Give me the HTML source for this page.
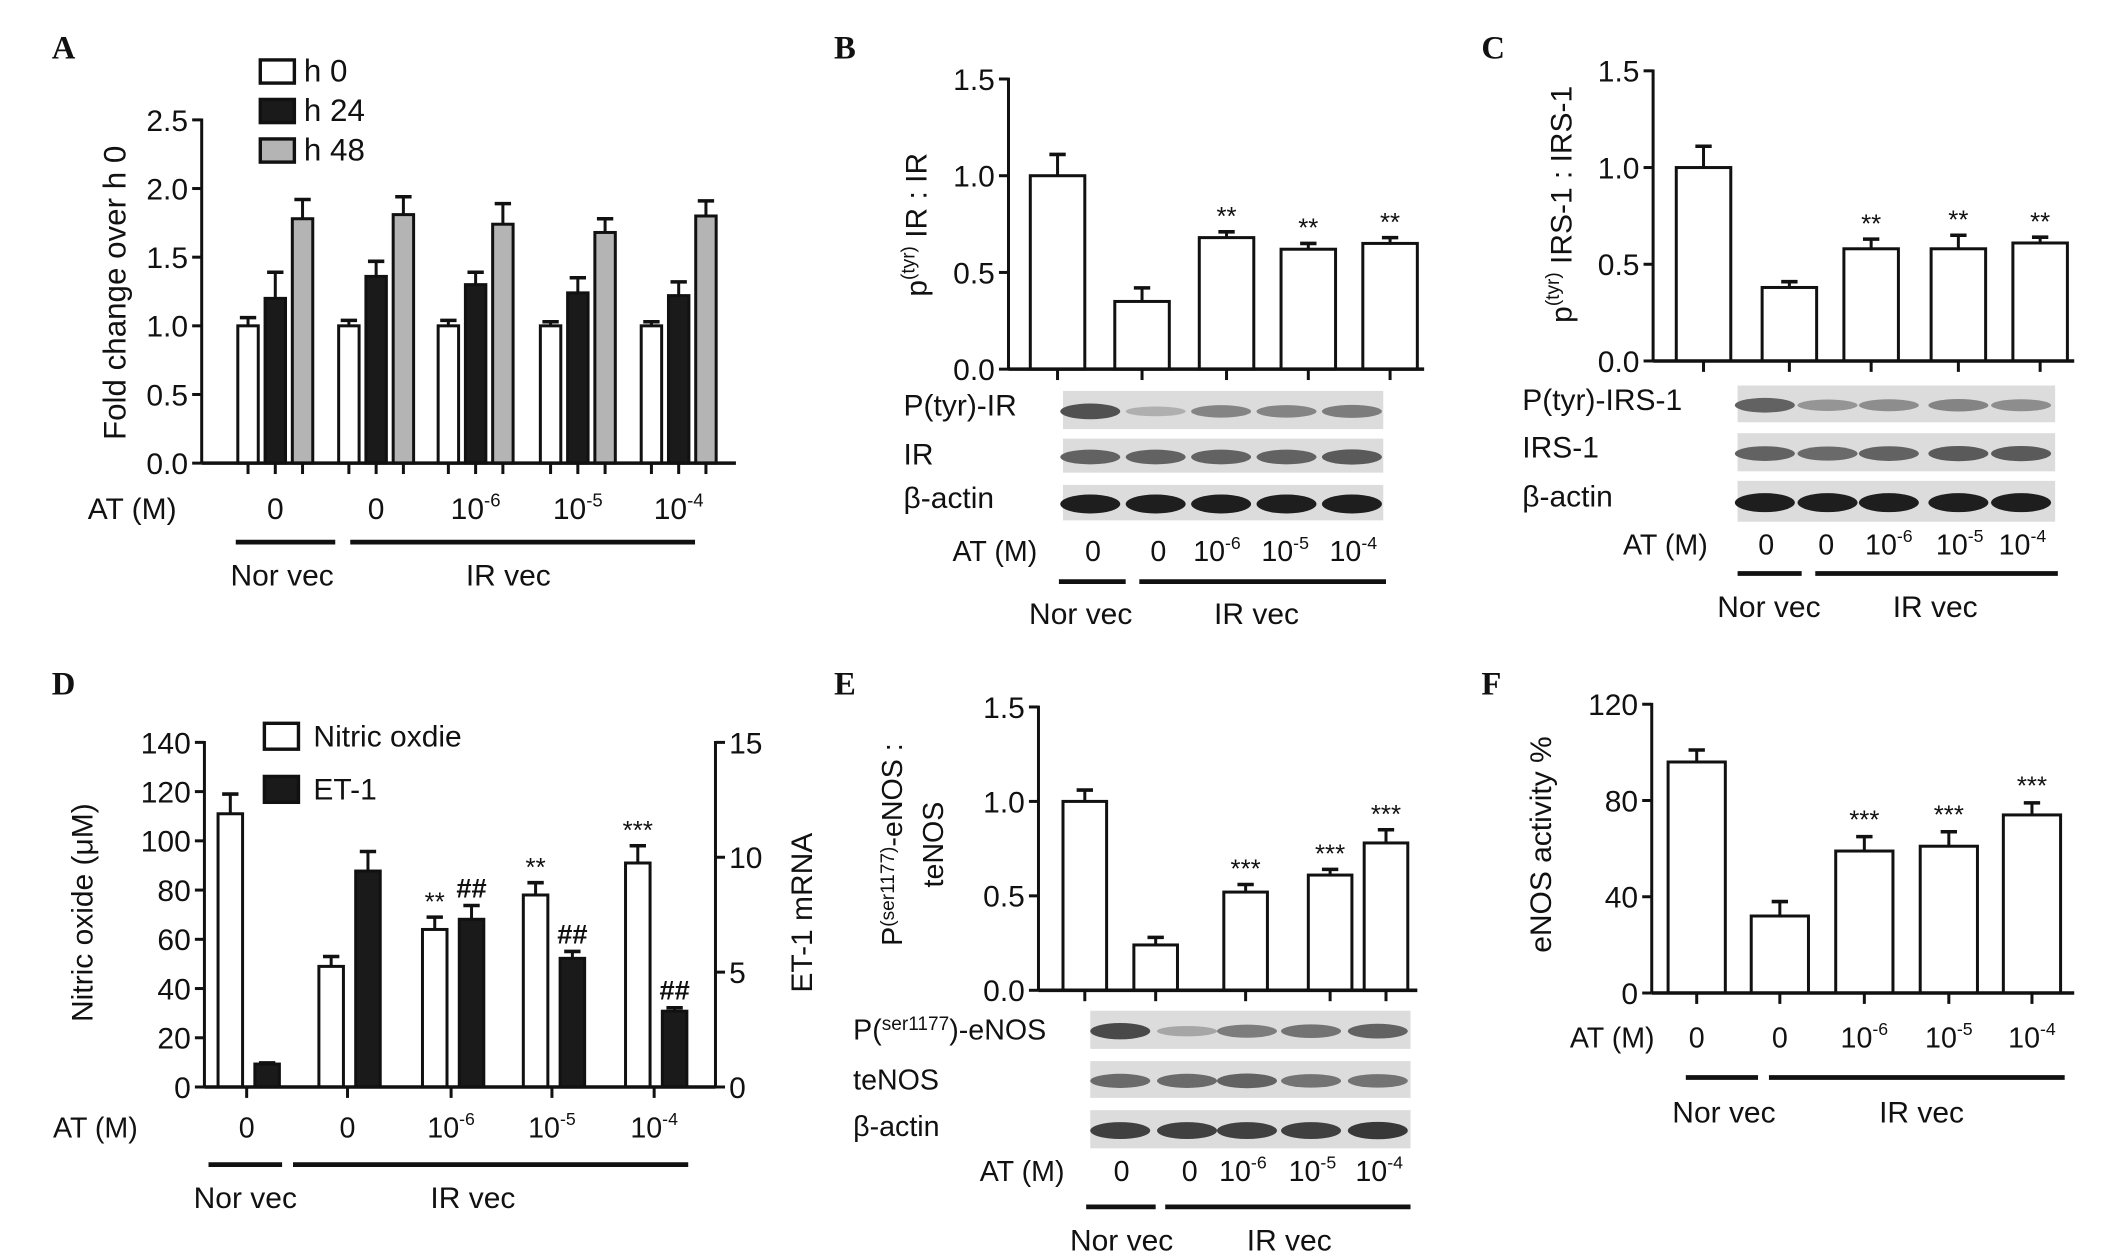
<!DOCTYPE html>
<html><head><meta charset="utf-8"><style>
html,body{margin:0;padding:0;background:#fff}
svg{display:block}
text{font-family:"Liberation Sans",sans-serif;fill:#111}
.pl{font-family:"Liberation Serif",serif;font-weight:bold;font-size:24px}
</style></head><body>
<svg id="fig" width="2126" height="1260" viewBox="0 0 1560 925" preserveAspectRatio="none" xmlns="http://www.w3.org/2000/svg">
<text class="pl" x="38" y="43">A</text>
<text class="pl" x="612" y="43">B</text>
<text class="pl" x="1087" y="43">C</text>
<text class="pl" x="38" y="510">D</text>
<text class="pl" x="612" y="510">E</text>
<text class="pl" x="1087" y="510">F</text>
</svg>
<script>
// ---- data ----
const aH0 = [1.0,1.0,1.0,1.0,1.0];
const aH0Err = [0.06,0.04,0.04,0.03,0.03];
const aH24 = [1.2,1.36,1.3,1.24,1.22];
const aH24Err = [0.19,0.11,0.09,0.11,0.1];
const aH48 = [1.78,1.81,1.74,1.68,1.8];
const aH48Err = [0.14,0.13,0.15,0.1,0.11];
const aTicks = [0,0.5,1.0,1.5,2.0,2.5];
const bVals = [1.0,0.35,0.68,0.62,0.65];
const bErr = [0.11,0.07,0.03,0.03,0.03];
const cVals = [1.0,0.38,0.58,0.58,0.61];
const cErr = [0.11,0.03,0.05,0.07,0.03];
const eVals = [1.0,0.24,0.52,0.61,0.78];
const eErr = [0.06,0.04,0.04,0.03,0.07];
const ratioTicks = [0,0.5,1.0,1.5];
const dNO = [111,49,64,78,91];
const dNOErr = [8,4,5,5,7];
const dET = [1.0,9.4,7.3,5.6,3.3];
const dETErr = [0.05,0.85,0.6,0.3,0.15];
const dLeftTicks = [0,20,40,60,80,100,120,140];
const dRightTicks = [0,5,10,15];
const fVals = [96,32,59,61,74];
const fErr = [5,6,6,6,5];
const fTicks = [0,40,80,120];
const bStars = ["","","**","**","**"];
const cStars = ["","","**","**","**"];
const eStars = ["","","***","***","***"];
const fStars = ["","","***","***","***"];
const dNOStars = ["","","**","**","***"];
const dETStars = ["","","##","##","##"];
const groupExp = ["","","-6","-5","-4"];

const svg = document.getElementById('fig');
const NS = 'http://www.w3.org/2000/svg';
function mk(tag, attrs, parent){const e=document.createElementNS(NS,tag);for(const k in attrs)e.setAttribute(k,attrs[k]);(parent||svg).appendChild(e);return e;}
function line(x1,y1,x2,y2,w){const l=mk('line',{x1,y1,x2,y2,stroke:'#111','stroke-width':w||2.2});return l;}
function txt(x,y,s,size,anchor){const t=mk('text',{x,y,'font-size':size||21,'text-anchor':anchor||'middle'});t.textContent=s;return t;}
function scale(v,vmax,y0,ytop){return y0-(v/vmax)*(y0-ytop);}
function barWithErr(cx,w,v,e,vmax,y0,ytop,fill,name){
  const yt=scale(v,vmax,y0,ytop), ye=scale(v+e,vmax,y0,ytop);
  const r=mk('rect',{x:cx-w/2,y:yt,width:w,height:y0-yt,fill:fill,stroke:'#111','stroke-width':2.2});
  
  
  const l1=line(cx,yt,cx,ye,2.2);
  
  
  const l2=line(cx-6,ye,cx+6,ye,2.6);
  
  
  return ye;
}
function yAxis(x,y0,ytop,ticks,vmax,fmt,side,name){
  const a=line(x,y0,x,ytop-1,2.2);
  
  
  ticks.forEach(t=>{const y=scale(t,vmax,y0,ytop);
    line(side>0?x:x-7,y,side>0?x+7:x,y,2.2);
    const tt=txt(side>0?x+10:x-10,y+8,fmt(t),22,side>0?'start':'end');
    
    
  });
}
function xAxis(x1,x2,y,tickXs,name){
  const a=line(x1,y,x2,y,2.6);
  
  
  tickXs.forEach(x=>line(x,y,x,y+8,2.2));
}
function atRow(labX,y,xs,size,name){
  const t=txt(labX,y,'AT (M)',size,'middle');
  
  
  xs.forEach((x,i)=>{
    const g=mk('text',{x:x,y:y,'font-size':size,'text-anchor':'middle'});
    
    
    if(groupExp[i]===''){g.textContent='0';}
    else{const a=mk('tspan',{},g);a.textContent='10';const b=mk('tspan',{dy:-9,'font-size':size*0.62},g);b.textContent=groupExp[i];}
  });
}
function groupLines(y,n1,n2,i1,i2,nx,ix,ty,name){
  const a=line(n1,y,n2,y,3.5);
  
  
  const b=line(i1,y,i2,y,3.5);
  
  
  const t1=txt(nx,ty,'Nor vec',22);
  
  
  const t2=txt(ix,ty,'IR vec',22);
  
  
}
function ytitle(x,y,s,size,name){
  const t=mk('text',{x:x,y:y,'font-size':size,'text-anchor':'middle',transform:`rotate(-90 ${x} ${y})`});
  
  
  return t;
}
function blots(x1,x2,rows,bandXs,intens,name){
  rows.forEach((r,ri)=>{
    const bg=mk('rect',{x:x1,y:r[0],width:x2-x1,height:r[1]-r[0],fill:'#dcdcdc'});
    
    
    bandXs.forEach((bx,i)=>{
      const k=intens[ri][i];
      const el=mk('ellipse',{cx:bx,cy:(r[0]+r[1])/2+1,rx:22,ry:3+4*k,fill:`rgb(${Math.round(200-170*k)},${Math.round(200-170*k)},${Math.round(200-170*k)})`});
      
      
    });
  });
}
function stars(cx,y,s,name){const t=txt(cx,y,s,s[0]==='#'?20:19);if(s[0]==='#'){t.setAttribute('font-family','Liberation Serif');t.setAttribute('font-weight','bold');}}
const f1=v=>v.toFixed(1);
const f0=v=>String(v);

// ---- Panel A ----
(function(){
  const y0=340,yt=88,vmax=2.5, gx=[202,276,349,424,498];
  yAxis(148,y0,yt,aTicks,vmax,f1,-1,'panel-a-y-axis');
  const tx=[];
  gx.forEach((g,i)=>{
    barWithErr(g-20,15,aH0[i],aH0Err[i],vmax,y0,yt,'#fff','bar-a-h0');
    barWithErr(g,15,aH24[i],aH24Err[i],vmax,y0,yt,'#1a1a1a','bar-a-h24');
    barWithErr(g+20,15,aH48[i],aH48Err[i],vmax,y0,yt,'#b4b4b4','bar-a-h48');
    tx.push(g-20,g,g+20);
  });
  xAxis(148,540,y0,tx,'panel-a-x-axis');
  const lg=[['#fff','h 0'],['#1a1a1a','h 24'],['#b4b4b4','h 48']];
  lg.forEach((l,i)=>{
    const r=mk('rect',{x:191,y:44+i*29,width:25,height:17,fill:l[0],stroke:'#111','stroke-width':2.5});
    
    
    const t=txt(223,60+i*29,l[1],23,'start');
    
    
  });
  ytitle(92,215,'Fold change over h 0',23,'panel-a-y-title').textContent='Fold change over h 0';
  atRow(97,381,gx,22,'panel-a');
  groupLines(398,173,246,257,510,207,373,430,'panel-a');
})();

// ---- ratio panels (B, C, E) ----
function ratioPanel(ax,y0,yt,xs,w,vals,errs,st,xEnd,name){
  yAxis(ax,y0,yt,ratioTicks,1.5,f1,-1,name+'-y-axis');
  xs.forEach((x,i)=>{
    const ye=barWithErr(x,w,vals[i],errs[i],1.5,y0,yt,'#fff','bar-'+name);
    if(st[i])stars(x,ye-5,st[i],name+'-significance');
  });
  xAxis(ax,xEnd,y0,xs,name+'-x-axis');
}
ratioPanel(740,271,58,[776,838,900,960,1020],40,bVals,bErr,bStars,1045,'panel-b');
{const t=ytitle(680,165,'',22,'panel-b-y-title');const a=mk('tspan',{},t);a.textContent='p';const b=mk('tspan',{dy:-9,'font-size':14},t);b.textContent='(tyr)';const c=mk('tspan',{dy:9},t);c.textContent=' IR : IR';}
blots(780,1015,[[287,315],[322,347],[356,382]],[800,848,896,944,992],[[0.7,0.15,0.4,0.4,0.45],[0.6,0.6,0.6,0.6,0.65],[1,1,1,1,1]],'panel-b');
[['P(tyr)-IR',305],['IR',341],['β-actin',373]].forEach(l=>{const t=txt(663,l[1],l[0],22,'start');});
atRow(730,412,[802,850,893,943,993],21,'panel-b');
groupLines(427,777,826,836,1017,793,922,458,'panel-b');

ratioPanel(1213,265,52,[1250,1313,1373,1437,1497],40,cVals,cErr,cStars,1522,'panel-c');
{const t=ytitle(1153,150,'',22,'panel-c-y-title');const a=mk('tspan',{},t);a.textContent='p';const b=mk('tspan',{dy:-9,'font-size':14},t);b.textContent='(tyr)';const c=mk('tspan',{dy:9},t);c.textContent=' IRS-1 : IRS-1';}
blots(1275,1508,[[283,310],[318,346],[353,383]],[1295,1341,1386,1437,1483],[[0.6,0.3,0.35,0.4,0.35],[0.6,0.55,0.6,0.65,0.65],[1,1,1,1,1]],'panel-c');
[['P(tyr)-IRS-1',301],['IRS-1',336],['β-actin',372]].forEach(l=>{const t=txt(1117,l[1],l[0],22,'start');});
atRow(1222,407,[1296,1340,1386,1438,1484],21,'panel-c');
groupLines(421,1275,1322,1332,1510,1298,1420,453,'panel-c');

ratioPanel(762,727,519,[796,848,914,976,1017],32,eVals,eErr,eStars,1040,'panel-e');
{const t=ytitle(662,620,'',21,'panel-e-y-title-1');const a=mk('tspan',{},t);a.textContent='P';const b=mk('tspan',{'font-size':14,dy:-6},t);b.textContent='(ser1177)';const c=mk('tspan',{dy:6},t);c.textContent='-eNOS :';
 const t2=ytitle(692,620,'teNOS',21,'panel-e-y-title-2');t2.textContent='teNOS';}
blots(800,1035,[[742,770],[779,806],[815,843]],[822,871,915,962,1011],[[0.75,0.2,0.45,0.5,0.6],[0.55,0.55,0.6,0.5,0.5],[0.8,0.8,0.8,0.8,0.85]],'panel-e');
{const t=txt(626,763,'',21,'start');const a=mk('tspan',{},t);a.textContent='P(';const b=mk('tspan',{'font-size':14,dy:-7},t);b.textContent='ser1177';const c=mk('tspan',{dy:7},t);c.textContent=')-eNOS';}
[['teNOS',800],['β-actin',834]].forEach(l=>{const t=txt(626,l[1],l[0],21,'start');});
atRow(750,867,[823,873,912,963,1012],21,'panel-e');
groupLines(886,797,848,855,1035,823,946,918,'panel-e');

// ---- Panel D ----
(function(){
  const y0=798,yt=545,gx=[181,255,331,405,480];
  yAxis(150,y0,yt,dLeftTicks,140,f0,-1,'panel-d-left-y-axis');
  yAxis(525,y0,yt,dRightTicks,15,f0,1,'panel-d-right-y-axis');
  const tx=[];
  gx.forEach((g,i)=>{
    const ye1=barWithErr(g-12,18,dNO[i],dNOErr[i],140,y0,yt,'#fff','bar-d-nitric-oxide');
    const ye2=barWithErr(g+15,18,dET[i],dETErr[i],15,y0,yt,'#1a1a1a','bar-d-et1');
    if(dNOStars[i])stars(g-12,ye1-5,dNOStars[i],'panel-d-no-significance');
    if(dETStars[i])stars(g+15,ye2-6,dETStars[i],'panel-d-et1-significance');
    tx.push(g);
  });
  xAxis(150,525,y0,tx,'panel-d-x-axis');
  [['#fff','Nitric oxdie',531],['#1a1a1a','ET-1',570]].forEach(l=>{
    const r=mk('rect',{x:194,y:l[2],width:25,height:19,fill:l[0],stroke:'#111','stroke-width':2.5});
    
    
    const t=txt(230,l[2]+17,l[1],22,'start');
    
    
  });
  ytitle(68,670,'',22,'panel-d-left-y-title').textContent='Nitric oxide (μM)';
  ytitle(596,670,'',22,'panel-d-right-y-title').textContent='ET-1 mRNA';
  atRow(70,835,gx,21,'panel-d');
  groupLines(855,153,207,215,505,180,347,887,'panel-d');
})();

// ---- Panel F ----
(function(){
  const y0=729,yt=517,xs=[1245,1306,1368,1430,1491],ax=1212;
  yAxis(ax,y0,yt,fTicks,120,f0,-1,'panel-f-y-axis');
  xs.forEach((x,i)=>{
    const ye=barWithErr(x,42,fVals[i],fErr[i],120,y0,yt,'#fff','bar-f');
    if(fStars[i])stars(x,ye-6,fStars[i],'panel-f-significance');
  });
  xAxis(ax,1522,y0,xs,'panel-f-x-axis');
  ytitle(1138,620,'',22,'panel-f-y-title').textContent='eNOS activity %';
  atRow(1183,769,xs,21,'panel-f');
  groupLines(791,1237,1290,1298,1515,1265,1410,824,'panel-f');
})();
</script>
</body></html>
